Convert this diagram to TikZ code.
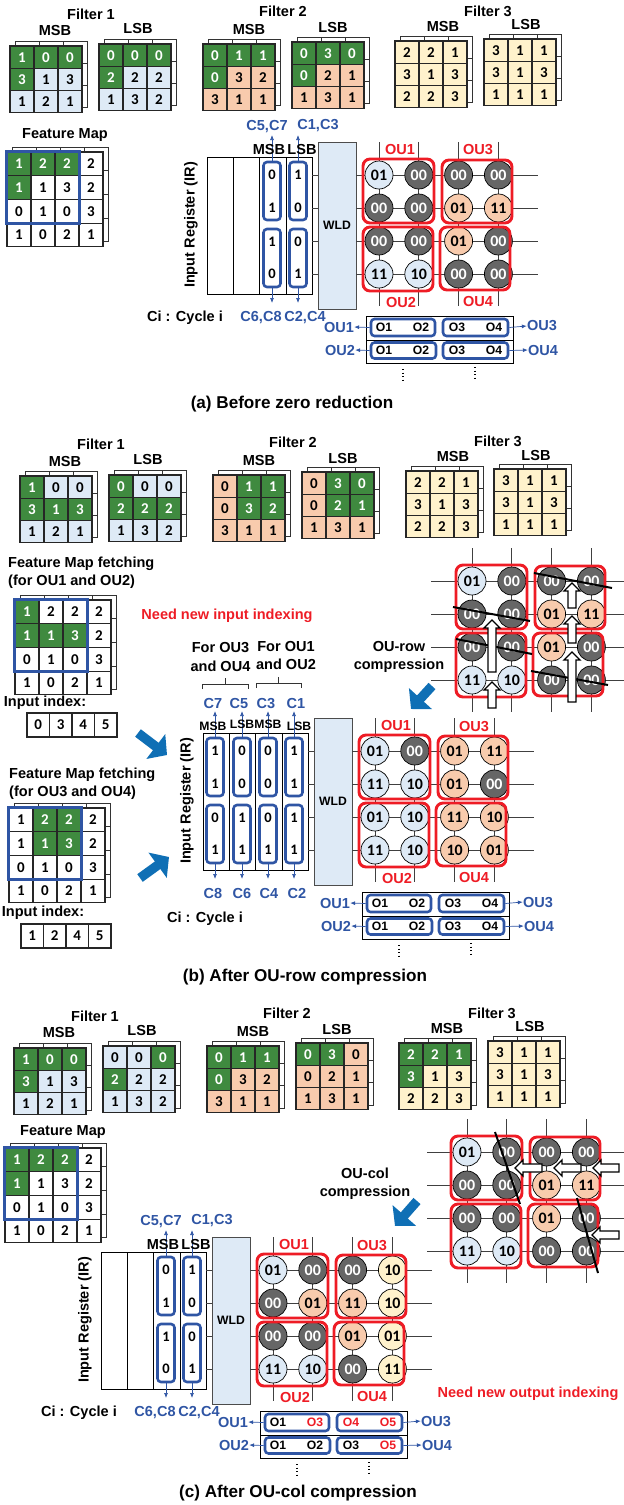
\documentclass[tikz,border=0pt]{standalone}
\usepackage{fontspec}
\setmainfont{Liberation Sans}
\newfontfamily\numfont{Carlito}
\usetikzlibrary{arrows.meta}

\definecolor{leafgreen}{HTML}{3F8A3F}
\definecolor{paleblue}{HTML}{DEEAF6}
\definecolor{paleorange}{HTML}{F8CBAD}
\definecolor{paleyellow}{HTML}{FFF2CC}
\definecolor{cellgray}{HTML}{666666}
\definecolor{oured}{HTML}{EE1C25}
\definecolor{oublue}{HTML}{2F55A4}
\definecolor{fatblue}{HTML}{0F6FB5}

\tikzset{
  txt/.style={inner sep=0pt, font=\fontsize{12.4}{15.4}\selectfont\bfseries},
  redtxt/.style={txt, text=oured},
  bluetxt/.style={txt, text=oublue},
  smalltxt/.style={inner sep=0pt, font=\fontsize{10.4}{12}\selectfont\bfseries},
  captxt/.style={inner sep=0pt, font=\fontsize{14.6}{17}\selectfont\bfseries},
  cellbox/.style={draw=black!85, line width=0.9pt, minimum width=0.72cm, inner sep=0pt,
    font=\numfont\fontsize{12.8}{12.8}\selectfont\bfseries},
  gc/.style={cellbox, fill=leafgreen, text=white},
  bc/.style={cellbox, fill=paleblue},
  oc/.style={cellbox, fill=paleorange},
  yc/.style={cellbox, fill=paleyellow},
  wc/.style={cellbox, fill=white},
  sheet/.style={black!80, line width=0.7pt},
  fetchbox/.style={draw=oublue, line width=2.1pt},
  dot/.style={circle, draw=black, line width=0.6pt, minimum size=0.84cm, inner sep=0pt,
    font=\numfont\fontsize{13.6}{13.6}\selectfont\bfseries},
  cb/.style={dot, fill=paleblue},
  cg/.style={dot, fill=cellgray, text=white},
  co/.style={dot, fill=paleorange},
  cy/.style={dot, fill=paleyellow},
  wire/.style={black!75, line width=0.7pt},
  oubox/.style={draw=oured, line width=2.5pt, rounded corners=6pt},
  irbox/.style={draw=black, line width=0.8pt, inner sep=0pt},
  wldbox/.style={draw=black!70, line width=0.8pt, fill=paleblue, inner sep=0pt, smalltxt},
  bitbox/.style={draw=oublue, line width=2.2pt, rounded corners=3pt, inner sep=0pt},
  bittxt/.style={inner sep=0pt, font=\numfont\fontsize{12.4}{12.4}\selectfont\bfseries},
  bitarrow/.style={oublue, line width=0.6pt, -{Latex[length=1.5mm, width=1.2mm]}},
  cutline/.style={black, line width=1.7pt},
  hollow/.style={draw=black, line width=1.1pt, fill=white},
  fatarrow/.style={fatblue, line width=8pt, -{Triangle[length=12pt, width=26pt]}},
  vdots/.style={black, line width=1pt, dotted},
}

% 3x3 or 4x4 table with a sheet behind it
\newcommand{\cellgrid}[7]{%
  \foreach \cl in {0,...,#4} \draw[sheet] ({#2+5+24*\cl},{#3-5}) -- ({#2+5+24*\cl},{#3});
  \draw[sheet] (#2+5,#3-5) -- ++(24*#4,0) -- ++(0,#5*#6) -- ++(-5,0);
  \foreach \rw in {1,...,#5} \draw[sheet] ({#2+24*#4},{#3+#6*\rw-5}) -- ++(5,0);
  \foreach \v/\s [count=\n from 0] in {#7} {
    \pgfmathtruncatemacro\colno{mod(\n,#4)}
    \pgfmathtruncatemacro\rowno{int(\n/#4)}
    \node[\s, minimum height=#6*0.03cm] (#1-\n) at ({#2+12+24*\colno},{#3+#6/2+#6*\rowno}) {\v};
  }
}
\newcommand{\filtergrid}[4]{\cellgrid{#1}{#2}{#3}{3}{3}{22.3}{#4}}
\newcommand{\fmapgrid}[4]{\cellgrid{#1}{#2}{#3}{4}{4}{23.7}{#4}}

% input index row
\newcommand{\indexrow}[4]{%
  \foreach \v [count=\n from 0] in {#4} {
    \node[wc, minimum width=0.675cm, minimum height=0.72cm] (#1-\n) at ({#2+11.25+22.5*\n},{#3+12}) {\v};
  }
}

% crossbar: prefix, origin, left wire, right wire, values
\newcommand{\oubars}[5]{%
  \begin{scope}[shift={(#2)}]
    \foreach \rw in {0,...,3} {
      \coordinate (#1-wl\rw) at (-#3,33*\rw);
      \coordinate (#1-wr\rw) at (#4,33*\rw);
      \draw[wire] (#1-wl\rw) -- (#1-wr\rw);
    }
    \foreach \cl in {0,...,3} {
      \coordinate (#1-bt\cl) at (39.8*\cl,-33);
      \coordinate (#1-bb\cl) at (39.8*\cl,131);
      \draw[wire] (#1-bt\cl) -- (#1-bb\cl);
    }
    \foreach \v/\s [count=\n from 0] in {#5} {
      \pgfmathtruncatemacro\colno{mod(\n,4)}
      \pgfmathtruncatemacro\rowno{int(\n/4)}
      \node[\s] (#1-d\n) at ({39.8*\colno},{33*\rowno}) {\v};
    }
    \draw[oubox] (-16,-16) rectangle (55,48);
    \draw[oubox] (63,-15) rectangle (133,48);
    \draw[oubox] (-16,52) rectangle (54,116);
    \draw[oubox] (61,52) rectangle (131,115);
  \end{scope}
}

% register, WLD and crossbar, written at the coordinates of part (a)
\newcommand{\mainblock}[2]{%
  \node[irbox, minimum width=3.15cm, minimum height=4.11cm] (#1-ir) at (259.5,225.5) {};
  \foreach \x in {233,259,286} \draw[irbox] (\x,157) -- (\x,294);
  \node[wldbox, minimum width=1.14cm, minimum height=5.01cm] (#1-wld) at (337,225.5) {WLD};
  \oubars{#1}{379,175}{23}{159}{#2}
  \foreach \rw in {0,...,3} \draw[wire] (#1-ir.east |- #1-wl\rw) -- (#1-wld.west |- #1-wl\rw);
  \node[redtxt] (#1-ou1) at (400,149) {OU1};
  \node[redtxt] (#1-ou3) at (478,150) {OU3};
  \node[redtxt] (#1-ou2) at (401,302) {OU2};
  \node[redtxt] (#1-ou4) at (478,301) {OU4};
  \node[txt, rotate=90] (#1-irt) at (191,225) {Input Register (IR)};
}

% one register column: two bit groups with their read-out arrows
\newcommand{\bitcol}[6]{%
  \node[bitbox, minimum width=0.51cm, minimum height=1.74cm] (#1-up) at (#2,191) {};
  \node[bitbox, minimum width=0.51cm, minimum height=1.74cm] (#1-dn) at (#2,258) {};
  \node[bittxt] (#1-b0) at (#2,175) {#3};
  \node[bittxt] (#1-b1) at (#2,208) {#4};
  \node[bittxt] (#1-b2) at (#2,242) {#5};
  \node[bittxt] (#1-b3) at (#2,274) {#6};
  \coordinate (#1-top) at (#2,135);
  \coordinate (#1-bot) at (#2,303);
  \draw[bitarrow] (#1-up.north) -- (#1-top);
  \draw[bitarrow] (#1-dn.south) -- (#1-bot);
}

% the two-column version used in (a) and (c)
\newcommand{\twocols}[1]{%
  \bitcol{#1-c1}{272}{0}{1}{1}{0}
  \bitcol{#1-c2}{298}{1}{0}{0}{1}
  \node[txt] (#1-msb) at (269,149) {MSB};
  \node[txt] (#1-lsb) at (302,149) {LSB};
  \node[bluetxt] (#1-c57) at (267,127) {C5,C7};
  \node[bluetxt] (#1-c13) at (318,126) {C1,C3};
  \node[bluetxt] (#1-c68) at (261,318) {C6,C8};
  \node[bluetxt] (#1-c24) at (305,318) {C2,C4};
  \node[txt] (#1-ci) at (185,318) {Ci : Cycle i};
}

% output table
\newcommand{\outtable}[9]{%
  \draw[irbox] (366,316) rectangle (513,363);
  \draw[irbox] (366,340) -- (513,340);
  \node[bitbox, minimum width=1.92cm, minimum height=0.51cm] (#1-o1) at (403,327.5) {};
  \node[bitbox, minimum width=1.95cm, minimum height=0.51cm] (#1-o2) at (475.5,327.5) {};
  \node[bitbox, minimum width=1.95cm, minimum height=0.48cm] (#1-o3) at (403.5,350.5) {};
  \node[bitbox, minimum width=1.95cm, minimum height=0.48cm] (#1-o4) at (475.5,350.5) {};
  \node[smalltxt] (#1-t1) at (384,327.5) {#2};
  \node[smalltxt] (#1-t2) at (421,327.5) {#3};
  \node[smalltxt] (#1-t3) at (457,327.5) {#4};
  \node[smalltxt] (#1-t4) at (494,327.5) {#5};
  \node[smalltxt] (#1-t5) at (384,350.5) {#6};
  \node[smalltxt] (#1-t6) at (421,350.5) {#7};
  \node[smalltxt] (#1-t7) at (457,350.5) {#8};
  \node[smalltxt] (#1-t8) at (494,350.5) {#9};
  \node[bluetxt] (#1-l1) at (339,327) {OU1};
  \node[bluetxt] (#1-l2) at (340,350) {OU2};
  \node[bluetxt] (#1-r1) at (542,326) {OU3};
  \node[bluetxt] (#1-r2) at (543,350) {OU4};
  \draw[bitarrow] (#1-o1.west) -- (#1-l1.east);
  \draw[bitarrow] (#1-o3.west) -- (#1-l2.east);
  \draw[bitarrow] (#1-o2.east) -- (#1-r1.west);
  \draw[bitarrow] (#1-o4.east) -- (#1-r2.west);
  \draw[vdots] (403,369) -- (403,381);
  \draw[vdots] (475,367) -- (475,379);
}

% hollow block arrows: x, tip, tail
\newcommand{\uparrowblock}[3]{\draw[hollow] (#1-4,#3) -- (#1-4,#2+8) -- (#1-8,#2+8) -- (#1,#2) -- (#1+8,#2+8) -- (#1+4,#2+8) -- (#1+4,#3) -- cycle;}
\newcommand{\leftarrowblock}[3]{\draw[hollow] (#3,#1-4) -- (#2+8,#1-4) -- (#2+8,#1-8) -- (#2,#1) -- (#2+8,#1+8) -- (#2+8,#1+4) -- (#3,#1+4) -- cycle;}

\begin{document}
\begin{tikzpicture}[x=0.03cm, y=-0.03cm]
  \useasboundingbox (0,0) rectangle (624,1505);

  % --- (a) filters ---
  \node[txt] (a-f1) at (91,14) {Filter 1};
  \node[txt] (a-f1m) at (55,30) {MSB};
  \node[txt] (a-f1l) at (138,28) {LSB};
  \filtergrid{a-g1}{10}{46}{1/gc,0/gc,0/gc,3/gc,1/bc,3/bc,1/bc,2/bc,1/bc}
  \filtergrid{a-g2}{99}{44}{0/gc,0/gc,0/gc,2/gc,2/bc,2/bc,1/bc,3/bc,2/bc}
  \node[txt] (a-f2) at (283,11) {Filter 2};
  \node[txt] (a-f2m) at (249,29) {MSB};
  \node[txt] (a-f2l) at (333,27) {LSB};
  \filtergrid{a-g3}{203}{44}{0/gc,1/gc,1/gc,0/gc,3/oc,2/oc,3/oc,1/oc,1/oc}
  \filtergrid{a-g4}{292}{42}{0/gc,3/gc,0/gc,0/gc,2/oc,1/oc,1/oc,3/oc,1/oc}
  \node[txt] (a-f3) at (488,11) {Filter 3};
  \node[txt] (a-f3m) at (443,26) {MSB};
  \node[txt] (a-f3l) at (526,24) {LSB};
  \filtergrid{a-g5}{395}{41}{2/yc,2/yc,1/yc,3/yc,1/yc,3/yc,2/yc,2/yc,3/yc}
  \filtergrid{a-g6}{484}{39}{3/yc,1/yc,1/yc,3/yc,1/yc,3/yc,1/yc,1/yc,1/yc}

  % --- (a) feature map ---
  \node[txt] (a-fmt) at (65,135) {Feature Map};
  \fmapgrid{a-fm}{7}{152}{1/gc,2/gc,2/gc,2/wc,1/gc,1/wc,3/wc,2/wc,0/wc,1/wc,0/wc,3/wc,1/wc,0/wc,2/wc,1/wc}
  \draw[fetchbox] (a-fm-0.north west) rectangle (a-fm-10.south east);

  % --- (a) register and crossbar ---
  \mainblock{a}{01/cb,00/cg,00/cg,00/cg,00/cg,00/cg,01/co,11/co,00/cg,00/cg,01/co,00/cg,11/cb,10/cb,00/cg,00/cg}
  \twocols{a}
  \outtable{a-tb}{O1}{O2}{O3}{O4}{O1}{O2}{O3}{O4}
  \node[captxt] (a-cap) at (292,404) {(a) Before zero reduction};

  % --- (b) filters ---
  \node[txt] (b-f1) at (101,444) {Filter 1};
  \node[txt] (b-f1m) at (65,461) {MSB};
  \node[txt] (b-f1l) at (148,459) {LSB};
  \filtergrid{b-g1}{20}{476}{1/gc,0/bc,0/bc,3/gc,1/gc,3/gc,1/bc,2/bc,1/bc}
  \filtergrid{b-g2}{109}{475}{0/gc,0/bc,0/bc,2/gc,2/gc,2/gc,1/bc,3/bc,2/bc}
  \node[txt] (b-f2) at (293,442) {Filter 2};
  \node[txt] (b-f2m) at (259,460) {MSB};
  \node[txt] (b-f2l) at (343,458) {LSB};
  \filtergrid{b-g3}{213}{475}{0/oc,1/gc,1/gc,0/oc,3/gc,2/gc,3/oc,1/oc,1/oc}
  \filtergrid{b-g4}{302}{472}{0/oc,3/gc,0/gc,0/oc,2/gc,1/gc,1/oc,3/oc,1/oc}
  \node[txt] (b-f3) at (498,441) {Filter 3};
  \node[txt] (b-f3m) at (453,456) {MSB};
  \node[txt] (b-f3l) at (536,455) {LSB};
  \filtergrid{b-g5}{406}{471}{2/yc,2/yc,1/yc,3/yc,1/yc,3/yc,2/yc,2/yc,3/yc}
  \filtergrid{b-g6}{494}{469}{3/yc,1/yc,1/yc,3/yc,1/yc,3/yc,1/yc,1/yc,1/yc}

  % --- (b) feature maps and input indices ---
  \node[txt, align=left, anchor=north west] (b-ft1) at (8,557) {Feature Map fetching\\(for OU1 and OU2)};
  \fmapgrid{b-fm1}{15}{600}{1/gc,2/wc,2/wc,2/wc,1/gc,1/gc,3/gc,2/wc,0/wc,1/wc,0/wc,3/wc,1/wc,0/wc,2/wc,1/wc}
  \draw[fetchbox] (b-fm1-0.north west) rectangle (b-fm1-10.south east);
  \node[txt] (b-ii1) at (45,703) {Input index:};
  \indexrow{b-ix1}{27}{713}{0,3,4,5}
  \node[txt, align=left, anchor=north west] (b-ft2) at (9,768) {Feature Map fetching\\(for OU3 and OU4)};
  \fmapgrid{b-fm2}{9}{808}{1/wc,2/gc,2/gc,2/wc,1/wc,1/gc,3/gc,2/wc,0/wc,1/wc,0/wc,3/wc,1/wc,0/wc,2/wc,1/wc}
  \draw[fetchbox] (b-fm2-0.north west) rectangle (b-fm2-10.south east);
  \node[txt] (b-ii2) at (43,913) {Input index:};
  \indexrow{b-ix2}{21}{924}{1,2,4,5}
  \node[redtxt] (b-need) at (227,616) {Need new input indexing};
  \coordinate (b-fa1) at (138,733);
  \coordinate (b-fa2) at (167,755);
  \draw[fatarrow] (b-fa1) -- (b-fa2);
  \coordinate (b-fa3) at (140,878);
  \coordinate (b-fa4) at (169,857);
  \draw[fatarrow] (b-fa3) -- (b-fa4);

  % --- (b) compression panel ---
  \oubars{bs}{472,581}{41}{152}{01/cb,00/cg,00/cg,00/cg,00/cg,00/cg,01/co,11/co,00/cg,00/cg,01/co,00/cg,11/cb,10/cb,00/cg,00/cg}
  \draw[cutline] (453,607) -- (530,621);
  \draw[cutline] (534,573) -- (612,588);
  \draw[cutline] (456,639) -- (532,654);
  \draw[cutline] (531,671) -- (608,685);
  \uparrowblock{492}{620}{672}
  \uparrowblock{492}{682}{708}
  \uparrowblock{572}{583}{608}
  \uparrowblock{572}{616}{643}
  \uparrowblock{572}{652}{702}
  \node[txt, align=center] (b-rowt) at (399,657) {OU-row\\compression};
  \coordinate (b-fa5) at (432,686);
  \coordinate (b-fa6) at (411,709);
  \draw[fatarrow] (b-fa5) -- (b-fa6);

  % --- (b) register and crossbar ---
  \node[txt, align=center] (b-for2) at (220.5,657) {For OU3\\and OU4};
  \node[txt, align=center] (b-for1) at (286,655.5) {For OU1\\and OU2};
  \draw[sheet] (202,689) -- (202,684) -- (248,684) -- (248,689);
  \draw[sheet] (225,684) -- (225,678);
  \draw[sheet] (256,688) -- (256,683) -- (301,683) -- (301,688);
  \draw[sheet] (278,683) -- (278,677);
  \begin{scope}[shift={(-4,576)}]
    \mainblock{b}{01/cb,00/cg,01/co,11/co,11/cb,10/cb,01/co,00/cg,01/cb,10/cb,11/co,10/co,11/cb,10/cb,10/co,01/co}
    \bitcol{b-c1}{219}{1}{1}{0}{1}
    \bitcol{b-c2}{246}{0}{0}{1}{1}
    \bitcol{b-c3}{272}{0}{0}{0}{1}
    \bitcol{b-c4}{298}{1}{1}{1}{1}
    \node[smalltxt] (b-m1) at (217,150) {MSB};
    \node[smalltxt] (b-l1) at (246,148) {LSB};
    \node[smalltxt] (b-m2) at (272,148) {MSB};
    \node[smalltxt] (b-l2) at (303,150) {LSB};
    \foreach \lab/\x in {C7/217,C5/243,C3/270,C1/300} \node[bluetxt] (b-\lab) at (\x,127) {\lab};
    \foreach \lab/\x in {C8/217,C6/246,C4/273,C2/301} \node[bluetxt] (b-\lab) at (\x,317) {\lab};
    \node[txt] (b-ci) at (209,343) {Ci : Cycle i};
    \outtable{b-tb}{O1}{O2}{O3}{O4}{O1}{O2}{O3}{O4}
  \end{scope}
  \node[captxt] (b-cap) at (305,977) {(b) After OU-row compression};

  % --- (c) filters ---
  \node[txt] (c-f1) at (95,1016) {Filter 1};
  \node[txt] (c-f1m) at (59,1032) {MSB};
  \node[txt] (c-f1l) at (142,1030) {LSB};
  \filtergrid{c-g1}{14}{1048}{1/gc,0/gc,0/gc,3/gc,1/bc,3/bc,1/bc,2/bc,1/bc}
  \filtergrid{c-g2}{103}{1046}{0/bc,0/bc,0/gc,2/gc,2/bc,2/bc,1/bc,3/bc,2/bc}
  \node[txt] (c-f2) at (287,1013) {Filter 2};
  \node[txt] (c-f2m) at (253,1031) {MSB};
  \node[txt] (c-f2l) at (337,1029) {LSB};
  \filtergrid{c-g3}{207}{1046}{0/gc,1/gc,1/gc,0/gc,3/oc,2/oc,3/oc,1/oc,1/oc}
  \filtergrid{c-g4}{296}{1043}{0/gc,3/gc,0/oc,0/oc,2/oc,1/oc,1/oc,3/oc,1/oc}
  \node[txt] (c-f3) at (492,1013) {Filter 3};
  \node[txt] (c-f3m) at (447,1028) {MSB};
  \node[txt] (c-f3l) at (530,1026) {LSB};
  \filtergrid{c-g5}{399}{1043}{2/gc,2/gc,1/gc,3/gc,1/yc,3/yc,2/yc,2/yc,3/yc}
  \filtergrid{c-g6}{488}{1041}{3/yc,1/yc,1/yc,3/yc,1/yc,3/yc,1/yc,1/yc,1/yc}

  % --- (c) feature map ---
  \node[txt] (c-fmt) at (63,1132) {Feature Map};
  \fmapgrid{c-fm}{5}{1148}{1/gc,2/gc,2/gc,2/wc,1/gc,1/wc,3/wc,2/wc,0/wc,1/wc,0/wc,3/wc,1/wc,0/wc,2/wc,1/wc}
  \draw[fetchbox] (c-fm-0.north west) rectangle (c-fm-10.south east);

  % --- (c) compression panel ---
  \oubars{cs}{467,1152}{40}{157}{01/cb,00/cg,00/cg,00/cg,00/cg,00/cg,01/co,11/co,00/cg,00/cg,01/co,00/cg,11/cb,10/cb,00/cg,00/cg}
  \draw[cutline] (495,1132) -- (520,1204);
  \draw[cutline] (577,1198) -- (598,1273);
  \leftarrowblock{1168}{515}{542}
  \leftarrowblock{1168}{554}{581}
  \leftarrowblock{1168}{593}{619}
  \leftarrowblock{1235}{592}{619}
  \node[txt, align=center] (c-colt) at (365,1184) {OU-col\\compression};
  \coordinate (c-fa1) at (417,1201);
  \coordinate (c-fa2) at (395,1226);
  \draw[fatarrow] (c-fa1) -- (c-fa2);
  \node[redtxt] (c-need) at (528,1394) {Need new output indexing};

  % --- (c) register and crossbar ---
  \begin{scope}[shift={(-106,1095)}]
    \mainblock{c}{01/cb,00/cg,00/cg,10/cy,00/cg,01/co,11/co,10/cy,00/cg,00/cg,01/co,01/cy,11/cb,10/cb,00/cg,11/cy}
    \twocols{c}
    \outtable{c-tb}{O1}{\textcolor{oured}{O3}}{\textcolor{oured}{O4}}{\textcolor{oured}{O5}}{O1}{O2}{O3}{\textcolor{oured}{O5}}
  \end{scope}
  \node[captxt] (c-cap) at (298,1493) {(c) After OU-col compression};

\end{tikzpicture}
\end{document}
